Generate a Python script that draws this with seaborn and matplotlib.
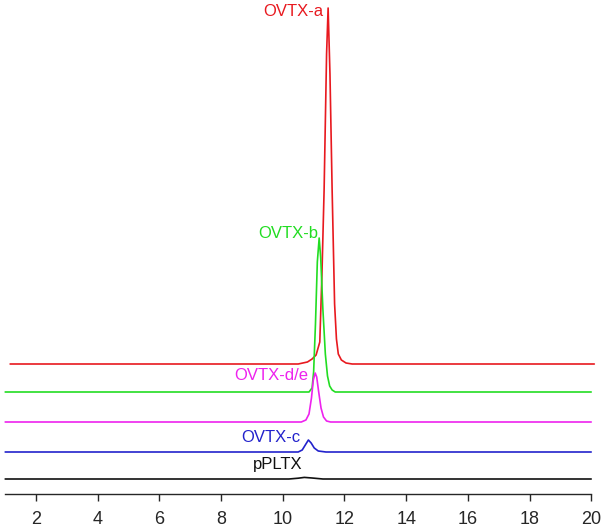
import numpy as np
import pandas as pd
import seaborn as sns
import matplotlib.pyplot as plt

# chromatogram traces (retention time in min, stacked signal)
red_x = [1.16, 10.5, 10.8, 10.95, 11.08, 11.2, 11.27, 11.34, 11.42, 11.47, 11.53, 11.6,
         11.68, 11.74, 11.8, 11.9, 12.05, 12.25, 20.1]
red_y = [130, 130, 132, 135, 139, 152, 220, 304, 440, 486, 420, 304,
         190, 155, 140, 134, 131, 130, 130]

green_x = [1.0, 10.85, 10.95, 11.0, 11.06, 11.12, 11.18, 11.23, 11.3, 11.38, 11.45,
           11.52, 11.6, 11.7, 20.0]
green_y = [102, 102, 106, 122, 170, 232, 256, 236, 185, 140, 118, 108, 104, 102, 102]

magenta_x = [1.0, 10.6, 10.75, 10.85, 10.93, 10.99, 11.05, 11.1, 11.16, 11.24, 11.32,
             11.42, 11.55, 20.0]
magenta_y = [72, 72, 74, 80, 96, 114, 121, 117, 103, 86, 77, 73, 72, 72]

blue_x = [1.0, 10.5, 10.63, 10.73, 10.83, 10.92, 11.02, 11.15, 11.4, 20.0]
blue_y = [42, 42, 44, 49, 54, 51, 46, 43, 42, 42]

black_x = [1.0, 10.2, 10.5, 10.7, 10.95, 11.3, 20.0]
black_y = [15, 15, 15.8, 16.6, 16.0, 15, 15]

labels = ['OVTX-a', 'OVTX-b', 'OVTX-d/e', 'OVTX-c', 'pPLTX']
label_x = [10.33, 10.17, 9.62, 9.62, 9.85]
label_y = [482, 261, 119, 57, 30]

colors = ['#e8191f', '#22dd22', '#ee22ee', '#2222cc', '#111111']
xticks = [2, 4, 6, 8, 10, 12, 14, 16, 18, 20]

sns.set_style('ticks')
plt.rcParams['font.family'] = ['Liberation Sans', 'DejaVu Sans']

fig = plt.figure(figsize=(6.06, 5.29), dpi=100)
ax = fig.add_axes([5.2 / 606, 35 / 529, 586 / 606, 494 / 529])

traces = [(red_x, red_y), (green_x, green_y), (magenta_x, magenta_y),
          (blue_x, blue_y), (black_x, black_y)]
for (tx, ty), c in zip(traces, colors):
    sns.lineplot(x=tx, y=ty, color=c, lw=1.2, estimator=None, sort=False, ax=ax)
for line in ax.lines:
    line.set_clip_on(False)

for lab, lx, ly, c in zip(labels, label_x, label_y, colors):
    ax.text(lx, ly, lab, color=c, fontsize=12, ha='center', va='center')

ax.set_xlim(1, 20)
ax.set_ylim(0, 494)
ax.set_xticks(xticks)
ax.set_yticks([])
for s in ['left', 'top', 'right']:
    ax.spines[s].set_visible(False)
ax.spines['bottom'].set_linewidth(1.0)
ax.tick_params(axis='x', direction='out', length=5, width=1.0, labelsize=13, pad=7)

fig.savefig('out.png', dpi=100)
